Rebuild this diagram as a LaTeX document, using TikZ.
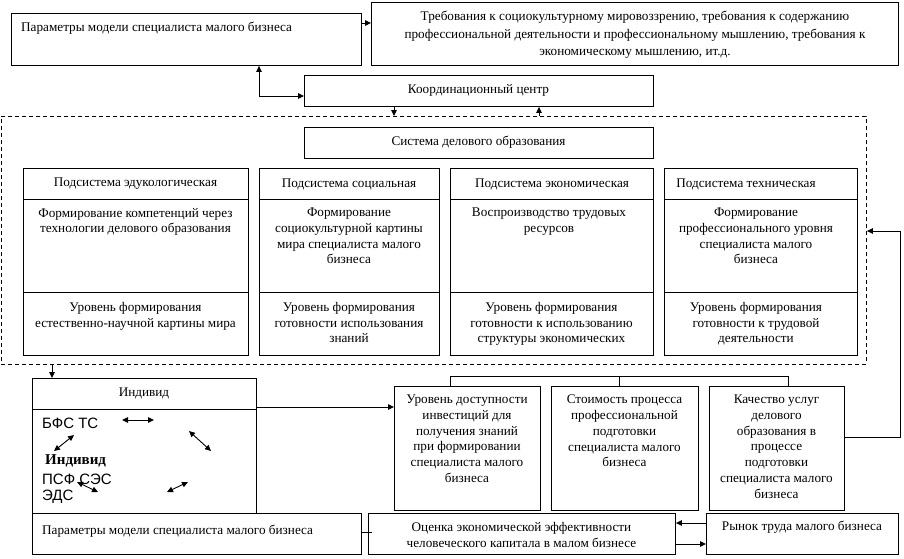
\documentclass[tikz,border=0pt]{standalone}
\usepackage{fontspec}
\setmainfont{Liberation Serif}
\newfontfamily\arialf{Liberation Sans}
\usetikzlibrary{arrows.meta}
\begin{document}
\begin{tikzpicture}[x=1pt,y=-1pt,
  box/.style={draw, line width=0.9pt, inner sep=0pt, anchor=north west},
  dbox/.style={draw, line width=0.9pt, inner sep=0pt, anchor=north west, dash pattern=on 4pt off 3pt},
  txt/.style={inner sep=0pt, font=\fontsize{13.2}{15.7}\selectfont, align=center},
  ltxt/.style={inner sep=0pt, font=\fontsize{13.2}{15.7}\selectfont, anchor=west},
  sym/.style={inner sep=0pt, font=\arialf\fontsize{15}{16}\selectfont, anchor=west},
  conn/.style={line width=0.9pt, -{Triangle[length=6pt,width=5.5pt]}},
  dconn/.style={line width=0.9pt, {Triangle[length=6pt,width=5.5pt]}-{Triangle[length=6pt,width=5.5pt]}},
  plain/.style={line width=0.9pt}
]
\useasboundingbox (0,0) rectangle (904,558);

% top boxes
\node[box, minimum width=350pt, minimum height=52pt] (A) at (11,13) {};
\node[ltxt] (tA) at (21,28) {Параметры модели специалиста малого бизнеса};
\node[box, minimum width=527pt, minimum height=63pt] (B) at (371,2) {};
\node[txt, font=\fontsize{13.2}{17.5}\selectfont] (tB) at (635,35) {Требования к социокультурному мировоззрению, требования к содержанию\\профессиональной деятельности и профессиональному мышлению, требования к\\экономическому мышлению, ит.д.};
\node[box, minimum width=349pt, minimum height=31pt] (C) at (304,75) {};
\node[txt] (tC) at (478.5,90) {Координационный центр};

% dashed system frame
\node[dbox, minimum width=865pt, minimum height=248pt] (S) at (1,116) {};
\node[box, minimum width=349pt, minimum height=31pt] (D) at (304,127) {};
\node[txt] (tD) at (478.5,142) {Система делового образования};

% column 1
\node[box, minimum width=225pt, minimum height=31pt] (h1) at (23,168) {};
\node[box, minimum width=225pt, minimum height=93pt] (m1) at (23,199) {};
\node[box, minimum width=225pt, minimum height=63pt] (b1) at (23,292) {};
\node[txt] (th1) at (135.5,184) {Подсистема эдукологическая};
\node[txt, anchor=north] (tm1) at (135.5,208) {Формирование компетенций через\\технологии делового образования};
\node[txt, anchor=north] (tb1) at (135.5,302) {Уровень формирования\\естественно-научной картины мира};

% column 2
\node[box, minimum width=180pt, minimum height=31pt] (h2) at (259,168) {};
\node[box, minimum width=180pt, minimum height=93pt] (m2) at (259,199) {};
\node[box, minimum width=180pt, minimum height=63pt] (b2) at (259,292) {};
\node[txt] (th2) at (349,184) {Подсистема социальная};
\node[txt, anchor=north] (tm2) at (349,208) {Формирование\\социокультурной картины\\мира специалиста малого\\бизнеса};
\node[txt, anchor=north] (tb2) at (349,302) {Уровень формирования\\готовности использования\\знаний};

% column 3
\node[box, minimum width=203pt, minimum height=31pt] (h3) at (450,168) {};
\node[box, minimum width=203pt, minimum height=93pt] (m3) at (450,199) {};
\node[box, minimum width=203pt, minimum height=63pt] (b3) at (450,292) {};
\node[txt] (th3) at (552,184) {Подсистема экономическая};
\node[txt, anchor=north] (tm3) at (549,208) {Воспроизводство трудовых\\ресурсов};
\node[txt, anchor=north] (tb3) at (551.5,302) {Уровень формирования\\готовности к использованию\\структуры экономических};

% column 4
\node[box, minimum width=193pt, minimum height=31pt] (h4) at (664,168) {};
\node[box, minimum width=193pt, minimum height=93pt] (m4) at (664,199) {};
\node[box, minimum width=193pt, minimum height=63pt] (b4) at (664,292) {};
\node[txt] (th4) at (746,184) {Подсистема техническая};
\node[txt, anchor=north] (tm4) at (756,208) {Формирование\\профессионального уровня\\специалиста малого\\бизнеса};
\node[txt, anchor=north] (tb4) at (756,302) {Уровень формирования\\готовности к трудовой\\деятельности};

% individual
\node[box, minimum width=224pt, minimum height=31pt] (Ih) at (32,378) {};
\node[box, minimum width=224pt, minimum height=104pt] (I) at (32,409) {};
\node[txt] (tIh) at (144,393) {Индивид};
\node[sym] (s1) at (42,423) {БФС ТС};
\node[sym, font=\bfseries\fontsize{15}{16}\selectfont] (s2) at (45,461) {Индивид};
\node[sym] (s3) at (42,479) {ПСФ СЭС};
\node[sym] (s4) at (42,497) {ЭДС};
\draw[dconn] (122,420) -- (154,420);
\draw[dconn] (189,431) -- (211,451);
\draw[dconn] (74,435) -- (54,451);
\draw[dconn] (77,482) -- (98,492);
\draw[dconn] (167,492) -- (188,482);

\node[box, minimum width=329pt, minimum height=41pt] (P) at (32,513) {};
\node[ltxt] (tP) at (42,531) {Параметры модели специалиста малого бизнеса};

% factor boxes
\node[box, minimum width=146pt, minimum height=124pt] (U) at (394,386) {};
\node[txt, anchor=north] (tU) at (467,395) {Уровень доступности\\инвестиций для\\получения знаний\\при формировании\\специалиста малого\\бизнеса};
\node[box, minimum width=147pt, minimum height=124pt] (St) at (551,386) {};
\node[txt, anchor=north] (tSt) at (624.5,395) {Стоимость процесса\\профессиональной\\подготовки\\специалиста малого\\бизнеса};
\node[box, minimum width=135pt, minimum height=124pt] (K) at (709,386) {};
\node[txt, anchor=north] (tK) at (776.5,395) {Качество услуг\\делового\\образования в\\процессе\\подготовки\\специалиста малого\\бизнеса};

\node[box, minimum width=307pt, minimum height=41pt] (O) at (368,513) {};
\node[txt] (tO) at (521.5,535) {Оценка экономической эффективности\\человеческого капитала в малом бизнесе};
\node[box, minimum width=192pt, minimum height=41pt] (R) at (706,513) {};
\node[txt] (tR) at (802,527) {Рынок труда малого бизнеса};

% coordinates for connectors
\coordinate (cAB) at (361,23);
\coordinate (cAC) at (259,96);
\coordinate (cCS) at (394,0);
\coordinate (cSC) at (539,0);
\coordinate (cSI) at (52,0);
\coordinate (cIU) at (256,407);
\coordinate (brL) at (450,376);
\coordinate (brM) at (619,376);
\coordinate (brR) at (788,376);
\coordinate (kq) at (900,437);
\coordinate (kt) at (900,231);
\coordinate (cPO) at (361,532);
\coordinate (cRO) at (706,523);
\coordinate (cOR) at (675,544);

% connectors
\draw[conn] (cAB) -- (cAB -| B.west);
\draw[dconn] (cAC |- A.south) -- (cAC) -- (cAC -| C.west);
\draw[conn] (cCS |- C.south) -- (cCS |- S.north);
\draw[conn] (cSC |- S.north) -- (cSC |- C.south);
\draw[conn] (cSI |- S.south) -- (cSI |- Ih.north);
\draw[conn] (cIU) -- (cIU -| U.west);
\draw[plain] (brL |- U.north) -- (brL) -- (brR) -- (brR |- K.north);
\draw[plain] (brM) -- (brM |- St.north);
\draw[conn] (kq -| K.east) -- (kq) -- (kt) -- (kt -| S.east);
\draw[plain] (cPO) -- ([xshift=4pt]cPO -| O.west);
\draw[conn] (cRO) -- (cRO -| O.east);
\draw[conn] (cOR) -- (cOR -| R.west);
\end{tikzpicture}
\end{document}
